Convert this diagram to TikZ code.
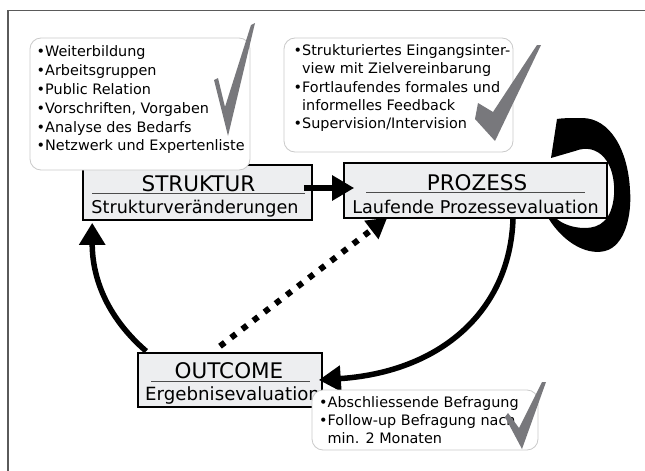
\documentclass[tikz,border=0pt]{standalone}
\usepackage{fontspec}
\setmainfont{DejaVu Sans}
\usetikzlibrary{calc,arrows.meta}
\definecolor{boxgrey}{HTML}{EDEEF0}
\definecolor{checkgrey}{HTML}{78787C}
\definecolor{listborder}{HTML}{CACACA}
\definecolor{framegrey}{HTML}{5A5A5A}
\tikzset{
	titlebox/.style={draw=black, line width=1.6pt, fill=boxgrey, inner sep=0pt},
	listbox/.style={draw=listborder, line width=0.8pt, fill=white, rounded corners=11pt},
	listtext/.style={anchor=north west, inner sep=0pt, align=left},
	titletext/.style={inner sep=0pt, anchor=base, font=\fontsize{21.5}{24}\selectfont},
	subtext/.style={inner sep=0pt, anchor=base, font=\fontsize{17.6}{20}\selectfont},
	underline/.style={draw=black!70, line width=0.8pt},
	check/.style={fill=checkgrey},
	bigarrow/.style={line width=6.5pt, -{Triangle[length=22pt,width=24pt]}},
	curvearrow/.style={line width=5.5pt, -{Triangle[length=22pt,width=25pt]}},
	dotarrow/.style={line width=6pt, dash pattern=on 6pt off 8pt, -{Triangle[length=20pt,width=22pt]}},
}
\newcommand{\listfont}[1]{\fontsize{14.4}{#1}\selectfont}

\begin{document}
\begin{tikzpicture}[x=1pt, y=-1pt]
	%%%%% START %%%%%
	
	\fill[white] (0,0) rectangle (645,471);
	\useasboundingbox (0,0) rectangle (645,471);
	\draw[framegrey, line width=1.3pt] (8,471) -- (8,10.5) -- (645,10.5);
	
	% self loop at PROZESS
	\fill (557,119) -- (551,158) -- (575,151) .. controls (598,142) and (616,162) .. (614,195)
		.. controls (612,220) and (600,228) .. (585,228) .. controls (570,228) and (558,222) .. (552,214)
		-- (546,214) .. controls (560,240) and (585,256) .. (605,251) .. controls (625,246) and (632,215) .. (630,190)
		.. controls (628,150) and (610,118) .. (582,118) .. controls (572,118) and (563,118) .. (557,119) -- cycle;
	
	% the three phases
	\node[titlebox, minimum width=229pt, minimum height=55pt] (struktur) at (197.5,192.5) {};
	\node[titletext] (struktur-titel) at (198.5,191) {STRUKTUR};
	\draw[underline] (92,193.3) -- (305,193.3);
	\node[subtext] (struktur-sub) at (195,213) {Strukturveränderungen};
	
	\node[titlebox, minimum width=263pt, minimum height=55pt] (prozess) at (475.5,190.5) {};
	\node[titletext] (prozess-titel) at (477,190) {PROZESS};
	\draw[underline] (366,192) -- (585,192);
	\node[subtext] (prozess-sub) at (475.5,213) {Laufende Prozessevaluation};
	
	\node[titlebox, minimum width=184pt, minimum height=54pt] (outcome) at (230,380) {};
	\node[titletext] (outcome-titel) at (229,378) {OUTCOME};
	\draw[underline] (151,381) -- (310,381);
	\node[subtext, anchor=base west, font=\fontsize{18.2}{20}\selectfont] (outcome-sub) at (145,400.5) {Ergebnisevaluation};
	
	% lists with checks
	\draw[listbox] (30,38) rectangle (250,170);
	\node[listtext, font=\listfont{18.9}] (struktur-liste) at (36.5,45.3) {•Weiterbildung\\•Arbeitsgruppen\\•Public Relation\\•Vorschriften, Vorgaben\\•Analyse des Bedarfs\\•Netzwerk und Expertenliste};
	\fill[check] (255,23) -- (228,136) -- (214,80) -- (218,78) -- (225,107) -- (251,25) -- cycle;
	
	\draw[listbox] (284,38) rectangle (513,152);
	\node[listtext, font=\listfont{18.2}] (prozess-liste) at (293.5,44.5) {•Strukturiertes Eingangsinter-\\\hphantom{•}view mit Zielvereinbarung\\•Fortlaufendes formales und\\\hphantom{•}informelles Feedback\\•Supervision/Intervision};
	\fill[check] (541,45) -- (495,141) -- (475,119) -- (478,103) -- (493,112) -- (537,45) -- cycle;
	
	% arrows
	\draw[bigarrow] ($(struktur.east)+(-9,-4.5)$) -- ($(prozess.west)+(11,-2.5)$);
	\draw[curvearrow] ($(prozess.south)+(37.5,0)$) .. controls +(-3,92) and +(122,-8) .. ($(outcome.east)+(-4,0)$);
	\draw[curvearrow] ($(outcome.north west)+(9,-1)$) .. controls +(-37,-32) and +(0,58) .. ($(struktur.south west)+(10,2)$);
	\draw[dotarrow] ($(outcome.north)+(-10,-6)$) -- ($(prozess.south west)+(44,-1)$);
	
	\draw[listbox] (312,390) rectangle (538,450);
	\node[listtext, font=\listfont{17.7}] (outcome-liste) at (319,396.5) {•Abschliessende Befragung\\•Follow-up Befragung nach\\\hphantom{•}min. 2 Monaten};
	\fill[check] (546,382) -- (522,449) -- (505,417) -- (508,413) -- (519,428) -- (542,382) -- cycle;
	
	%%%%% END %%%%%
\end{tikzpicture}
\end{document}
